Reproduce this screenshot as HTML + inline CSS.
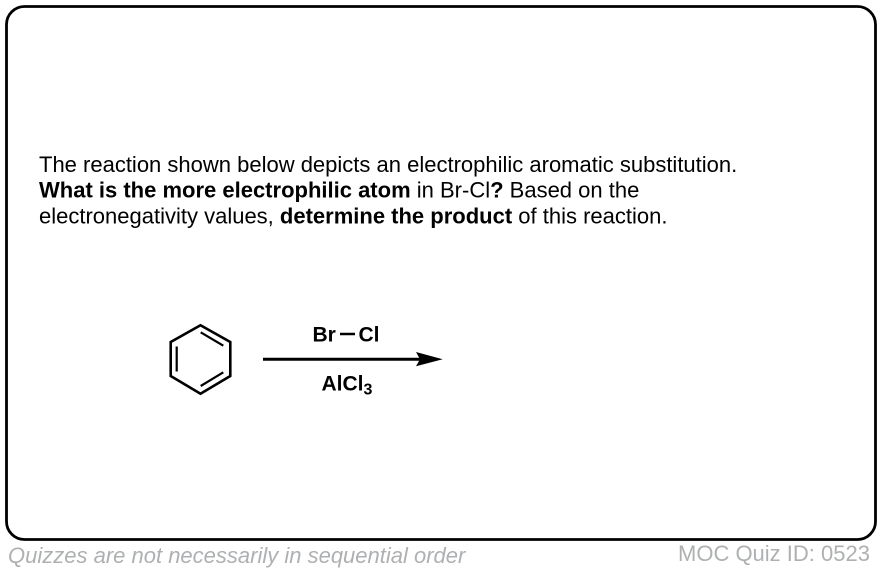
<!DOCTYPE html>
<html><head><meta charset="utf-8"><style>
html,body{margin:0;padding:0;background:#fff}
svg{display:block}
text{font-family:"Liberation Sans",sans-serif}
</style></head><body>
<svg width="882" height="572" viewBox="0 0 882 572" xmlns="http://www.w3.org/2000/svg">
<rect x="6.5" y="6.5" width="869" height="533" rx="18" ry="18" fill="#fff" stroke="#000" stroke-width="2.8"/>
<g font-size="22" fill="#000">
<text x="39" y="172">The reaction shown below depicts an electrophilic aromatic substitution.</text>
<text x="39" y="197.500"><tspan font-weight="bold">What is the more electrophilic atom</tspan> in Br-Cl<tspan font-weight="bold">?</tspan> Based on the</text>
<text x="39" y="223.500"><tspan>electronegativity values, </tspan><tspan font-weight="bold">determine the product</tspan> of this reaction.</text>
</g>
<g fill="none" stroke="#000" stroke-width="2.6" stroke-linejoin="miter">
<polygon points="200.5,325.300 230.3,342 230.3,376 200.5,393.700 170.700,376 170.700,342"/>
<line x1="176.700" y1="346.500" x2="176.700" y2="371.500" stroke-width="2.200"/>
<line x1="200.700" y1="332.300" x2="223.300" y2="345.700" stroke-width="2.200"/>
<line x1="200.700" y1="386" x2="223.300" y2="372.300" stroke-width="2.200"/>
<line x1="263" y1="359.300" x2="420" y2="359.300" stroke-width="3"/>
<line x1="340" y1="334" x2="355" y2="334" stroke-width="2.500"/>
</g>
<polygon points="442.700,359.300 416,352 420,359.300 416,366.300" fill="#000"/>
<g font-size="21" font-weight="bold" fill="#000">
<text x="312.500" y="341.500">Br</text>
<text x="358.500" y="341.500">Cl</text>
<text x="321.500" y="390.500">AlCl<tspan font-size="16" dy="4">3</tspan></text>
</g>
<text x="8" y="563" font-size="22" font-style="italic" fill="#aeb0b2">Quizzes are not necessarily in sequential order</text>
<text x="678" y="561" font-size="22" fill="#aeb0b2">MOC Quiz ID: 0523</text>
</svg>
</body></html>
